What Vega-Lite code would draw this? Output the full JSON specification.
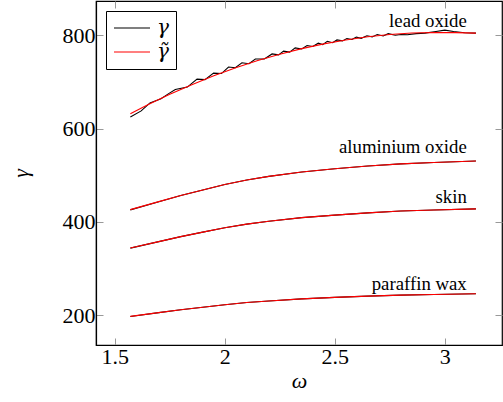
{
  "$schema": "https://vega.github.io/schema/vega-lite/v6.json",
  "width": 406,
  "height": 344,
  "autosize": {"type": "none"},
  "padding": {"left": 96, "top": 1, "right": 1, "bottom": 57},
  "config": {
    "view": {"stroke": "black", "strokeWidth": 1.2},
    "font": "'Liberation Serif', 'DejaVu Serif', serif",
    "axis": {
      "labelFont": "'Liberation Serif', 'DejaVu Serif', serif", "labelFontSize": 22, "labelColor": "black",
      "titleFont": "'Liberation Serif', 'DejaVu Serif', serif", "titleFontSize": 22, "titleFontStyle": "italic",
      "titleFontWeight": "normal", "titleColor": "black",
      "grid": false, "tickColor": "#999999", "tickSize": -7, "tickWidth": 1,
      "domainColor": "black", "domainWidth": 1.2
    }
  },
  "datasets": {
    "lines": [
      {"w": 1.5708, "v": 625, "mat": "lead", "kind": "γ"},
      {"w": 1.62, "v": 638, "mat": "lead", "kind": "γ"},
      {"w": 1.66, "v": 655, "mat": "lead", "kind": "γ"},
      {"w": 1.71, "v": 664, "mat": "lead", "kind": "γ"},
      {"w": 1.745, "v": 675, "mat": "lead", "kind": "γ"},
      {"w": 1.775, "v": 684, "mat": "lead", "kind": "γ"},
      {"w": 1.83, "v": 689, "mat": "lead", "kind": "γ"},
      {"w": 1.85, "v": 697, "mat": "lead", "kind": "γ"},
      {"w": 1.874, "v": 706, "mat": "lead", "kind": "γ"},
      {"w": 1.91, "v": 705, "mat": "lead", "kind": "γ"},
      {"w": 1.949, "v": 719, "mat": "lead", "kind": "γ"},
      {"w": 1.985, "v": 718, "mat": "lead", "kind": "γ"},
      {"w": 2.017, "v": 732, "mat": "lead", "kind": "γ"},
      {"w": 2.048, "v": 730.5, "mat": "lead", "kind": "γ"},
      {"w": 2.078, "v": 741, "mat": "lead", "kind": "γ"},
      {"w": 2.11, "v": 739, "mat": "lead", "kind": "γ"},
      {"w": 2.139, "v": 749, "mat": "lead", "kind": "γ"},
      {"w": 2.18, "v": 749, "mat": "lead", "kind": "γ"},
      {"w": 2.215, "v": 760, "mat": "lead", "kind": "γ"},
      {"w": 2.245, "v": 758, "mat": "lead", "kind": "γ"},
      {"w": 2.267, "v": 766, "mat": "lead", "kind": "γ"},
      {"w": 2.295, "v": 764, "mat": "lead", "kind": "γ"},
      {"w": 2.32, "v": 773, "mat": "lead", "kind": "γ"},
      {"w": 2.35, "v": 770.5, "mat": "lead", "kind": "γ"},
      {"w": 2.374, "v": 778, "mat": "lead", "kind": "γ"},
      {"w": 2.4, "v": 776, "mat": "lead", "kind": "γ"},
      {"w": 2.425, "v": 783, "mat": "lead", "kind": "γ"},
      {"w": 2.445, "v": 780, "mat": "lead", "kind": "γ"},
      {"w": 2.466, "v": 787, "mat": "lead", "kind": "γ"},
      {"w": 2.49, "v": 784, "mat": "lead", "kind": "γ"},
      {"w": 2.51, "v": 790, "mat": "lead", "kind": "γ"},
      {"w": 2.535, "v": 788, "mat": "lead", "kind": "γ"},
      {"w": 2.555, "v": 793, "mat": "lead", "kind": "γ"},
      {"w": 2.578, "v": 791, "mat": "lead", "kind": "γ"},
      {"w": 2.598, "v": 796, "mat": "lead", "kind": "γ"},
      {"w": 2.62, "v": 793.5, "mat": "lead", "kind": "γ"},
      {"w": 2.646, "v": 799, "mat": "lead", "kind": "γ"},
      {"w": 2.67, "v": 796.5, "mat": "lead", "kind": "γ"},
      {"w": 2.693, "v": 801.5, "mat": "lead", "kind": "γ"},
      {"w": 2.72, "v": 798.5, "mat": "lead", "kind": "γ"},
      {"w": 2.743, "v": 803.5, "mat": "lead", "kind": "γ"},
      {"w": 2.775, "v": 800, "mat": "lead", "kind": "γ"},
      {"w": 2.8, "v": 801.5, "mat": "lead", "kind": "γ"},
      {"w": 2.83, "v": 801, "mat": "lead", "kind": "γ"},
      {"w": 2.87, "v": 803.5, "mat": "lead", "kind": "γ"},
      {"w": 2.91, "v": 804.5, "mat": "lead", "kind": "γ"},
      {"w": 2.96, "v": 808, "mat": "lead", "kind": "γ"},
      {"w": 3.0, "v": 811, "mat": "lead", "kind": "γ"},
      {"w": 3.04, "v": 808, "mat": "lead", "kind": "γ"},
      {"w": 3.09, "v": 805.5, "mat": "lead", "kind": "γ"},
      {"w": 3.1416, "v": 804.5, "mat": "lead", "kind": "γ"},

      {"w": 1.5708, "v": 632, "mat": "lead", "kind": "γ̃"},
      {"w": 1.65, "v": 651, "mat": "lead", "kind": "γ̃"},
      {"w": 1.75, "v": 673.5, "mat": "lead", "kind": "γ̃"},
      {"w": 1.85, "v": 694.2, "mat": "lead", "kind": "γ̃"},
      {"w": 1.95, "v": 713.2, "mat": "lead", "kind": "γ̃"},
      {"w": 2.05, "v": 730.4, "mat": "lead", "kind": "γ̃"},
      {"w": 2.15, "v": 745.8, "mat": "lead", "kind": "γ̃"},
      {"w": 2.25, "v": 759.5, "mat": "lead", "kind": "γ̃"},
      {"w": 2.35, "v": 771.4, "mat": "lead", "kind": "γ̃"},
      {"w": 2.45, "v": 781.6, "mat": "lead", "kind": "γ̃"},
      {"w": 2.55, "v": 790, "mat": "lead", "kind": "γ̃"},
      {"w": 2.65, "v": 796.7, "mat": "lead", "kind": "γ̃"},
      {"w": 2.75, "v": 801.5, "mat": "lead", "kind": "γ̃"},
      {"w": 2.85, "v": 804.7, "mat": "lead", "kind": "γ̃"},
      {"w": 2.95, "v": 806, "mat": "lead", "kind": "γ̃"},
      {"w": 3.05, "v": 805.7, "mat": "lead", "kind": "γ̃"},
      {"w": 3.1416, "v": 804.5, "mat": "lead", "kind": "γ̃"},

      {"w": 1.5708, "v": 426, "mat": "al", "kind": "γ"},
      {"w": 1.7, "v": 443.4, "mat": "al", "kind": "γ"},
      {"w": 1.8, "v": 456.8, "mat": "al", "kind": "γ"},
      {"w": 1.9, "v": 468.7, "mat": "al", "kind": "γ"},
      {"w": 2.0, "v": 480.2, "mat": "al", "kind": "γ"},
      {"w": 2.1, "v": 490.0, "mat": "al", "kind": "γ"},
      {"w": 2.2, "v": 497.7, "mat": "al", "kind": "γ"},
      {"w": 2.35, "v": 507.1, "mat": "al", "kind": "γ"},
      {"w": 2.5, "v": 513.9, "mat": "al", "kind": "γ"},
      {"w": 2.65, "v": 519.9, "mat": "al", "kind": "γ"},
      {"w": 2.8, "v": 524.6, "mat": "al", "kind": "γ"},
      {"w": 2.95, "v": 527.6, "mat": "al", "kind": "γ"},
      {"w": 3.1416, "v": 530.6, "mat": "al", "kind": "γ"},
      {"w": 1.5708, "v": 426.5, "mat": "al", "kind": "γ̃"},
      {"w": 1.7, "v": 443.6, "mat": "al", "kind": "γ̃"},
      {"w": 1.8, "v": 456.8, "mat": "al", "kind": "γ̃"},
      {"w": 1.9, "v": 468.7, "mat": "al", "kind": "γ̃"},
      {"w": 2.0, "v": 480.2, "mat": "al", "kind": "γ̃"},
      {"w": 2.1, "v": 490.0, "mat": "al", "kind": "γ̃"},
      {"w": 2.2, "v": 497.7, "mat": "al", "kind": "γ̃"},
      {"w": 2.35, "v": 507.1, "mat": "al", "kind": "γ̃"},
      {"w": 2.5, "v": 513.9, "mat": "al", "kind": "γ̃"},
      {"w": 2.65, "v": 519.9, "mat": "al", "kind": "γ̃"},
      {"w": 2.8, "v": 524.6, "mat": "al", "kind": "γ̃"},
      {"w": 2.95, "v": 527.6, "mat": "al", "kind": "γ̃"},
      {"w": 3.1416, "v": 530.6, "mat": "al", "kind": "γ̃"},

      {"w": 1.5708, "v": 344.0, "mat": "skin", "kind": "γ"},
      {"w": 1.7, "v": 358.0, "mat": "skin", "kind": "γ"},
      {"w": 1.8, "v": 368.6, "mat": "skin", "kind": "γ"},
      {"w": 1.9, "v": 378.3, "mat": "skin", "kind": "γ"},
      {"w": 2.0, "v": 387.6, "mat": "skin", "kind": "γ"},
      {"w": 2.1, "v": 395.5, "mat": "skin", "kind": "γ"},
      {"w": 2.2, "v": 401.7, "mat": "skin", "kind": "γ"},
      {"w": 2.35, "v": 409.3, "mat": "skin", "kind": "γ"},
      {"w": 2.5, "v": 414.8, "mat": "skin", "kind": "γ"},
      {"w": 2.65, "v": 419.6, "mat": "skin", "kind": "γ"},
      {"w": 2.8, "v": 423.4, "mat": "skin", "kind": "γ"},
      {"w": 2.95, "v": 425.8, "mat": "skin", "kind": "γ"},
      {"w": 3.1416, "v": 428.2, "mat": "skin", "kind": "γ"},
      {"w": 1.5708, "v": 344.2, "mat": "skin", "kind": "γ̃"},
      {"w": 1.7, "v": 358.0, "mat": "skin", "kind": "γ̃"},
      {"w": 1.8, "v": 368.6, "mat": "skin", "kind": "γ̃"},
      {"w": 1.9, "v": 378.3, "mat": "skin", "kind": "γ̃"},
      {"w": 2.0, "v": 387.6, "mat": "skin", "kind": "γ̃"},
      {"w": 2.1, "v": 395.5, "mat": "skin", "kind": "γ̃"},
      {"w": 2.2, "v": 401.7, "mat": "skin", "kind": "γ̃"},
      {"w": 2.35, "v": 409.3, "mat": "skin", "kind": "γ̃"},
      {"w": 2.5, "v": 414.8, "mat": "skin", "kind": "γ̃"},
      {"w": 2.65, "v": 419.6, "mat": "skin", "kind": "γ̃"},
      {"w": 2.8, "v": 423.4, "mat": "skin", "kind": "γ̃"},
      {"w": 2.95, "v": 425.8, "mat": "skin", "kind": "γ̃"},
      {"w": 3.1416, "v": 428.2, "mat": "skin", "kind": "γ̃"},

      {"w": 1.5708, "v": 197.7, "mat": "wax", "kind": "γ"},
      {"w": 1.7, "v": 205.8, "mat": "wax", "kind": "γ"},
      {"w": 1.8, "v": 212.0, "mat": "wax", "kind": "γ"},
      {"w": 1.9, "v": 217.5, "mat": "wax", "kind": "γ"},
      {"w": 2.0, "v": 222.8, "mat": "wax", "kind": "γ"},
      {"w": 2.1, "v": 227.4, "mat": "wax", "kind": "γ"},
      {"w": 2.2, "v": 230.9, "mat": "wax", "kind": "γ"},
      {"w": 2.35, "v": 235.3, "mat": "wax", "kind": "γ"},
      {"w": 2.5, "v": 238.5, "mat": "wax", "kind": "γ"},
      {"w": 2.65, "v": 241.2, "mat": "wax", "kind": "γ"},
      {"w": 2.8, "v": 243.4, "mat": "wax", "kind": "γ"},
      {"w": 2.95, "v": 244.8, "mat": "wax", "kind": "γ"},
      {"w": 3.1416, "v": 246.2, "mat": "wax", "kind": "γ"},
      {"w": 1.5708, "v": 197.9, "mat": "wax", "kind": "γ̃"},
      {"w": 1.7, "v": 205.8, "mat": "wax", "kind": "γ̃"},
      {"w": 1.8, "v": 212.0, "mat": "wax", "kind": "γ̃"},
      {"w": 1.9, "v": 217.5, "mat": "wax", "kind": "γ̃"},
      {"w": 2.0, "v": 222.8, "mat": "wax", "kind": "γ̃"},
      {"w": 2.1, "v": 227.4, "mat": "wax", "kind": "γ̃"},
      {"w": 2.2, "v": 230.9, "mat": "wax", "kind": "γ̃"},
      {"w": 2.35, "v": 235.3, "mat": "wax", "kind": "γ̃"},
      {"w": 2.5, "v": 238.5, "mat": "wax", "kind": "γ̃"},
      {"w": 2.65, "v": 241.2, "mat": "wax", "kind": "γ̃"},
      {"w": 2.8, "v": 243.4, "mat": "wax", "kind": "γ̃"},
      {"w": 2.95, "v": 244.8, "mat": "wax", "kind": "γ̃"},
      {"w": 3.1416, "v": 246.2, "mat": "wax", "kind": "γ̃"}
    ],
    "labels": [
      {"w": 3.1, "v": 818.4, "label": "lead oxide"},
      {"w": 3.1, "v": 547.2, "label": "aluminium oxide"},
      {"w": 3.1, "v": 441.3, "label": "skin"},
      {"w": 3.1, "v": 254.2, "label": "paraffin wax"}
    ]
  },
  "layer": [
    {
      "data": {"name": "lines"},
      "transform": [{"filter": "datum.kind === 'γ'"}],
      "mark": {"type": "line", "strokeWidth": 1.1},
      "encoding": {
        "x": {"field": "w", "type": "quantitative",
              "scale": {"domain": [1.4146, 3.2601], "nice": false, "zero": false},
              "axis": {"orient": "bottom", "values": [1.5, 2, 2.5, 3], "format": "~g", "title": "ω", "labelPadding": 8, "titlePadding": 3}},
        "y": {"field": "v", "type": "quantitative",
              "scale": {"domain": [136.5, 873.4], "nice": false, "zero": false},
              "axis": {"orient": "left", "values": [200, 400, 600, 800], "format": "d", "title": "γ", "titleAngle": -90, "labelPadding": 8, "titlePadding": 30}},
        "color": {"field": "kind", "type": "nominal",
                  "scale": {"domain": ["γ", "γ̃"], "range": ["black", "red"]},
                  "legend": {"title": null, "orient": "top-left", "offset": 10, "symbolType": "M-1,0H3", "symbolSize": 324,
                             "symbolStrokeWidth": 1.1, "labelFont": "'DejaVu Serif', serif", "labelFontSize": 20, "labelFontStyle": "italic",
                             "labelColor": "black", "labelOffset": 24, "labelBaseline": "middle", "strokeColor": "black", "fillColor": "white",
                             "padding": 7, "rowPadding": 4}},
        "detail": {"field": "mat"}
      }
    },
    {
      "data": {"name": "lines"},
      "transform": [{"filter": "datum.kind !== 'γ'"}],
      "mark": {"type": "line", "strokeWidth": 1.1},
      "encoding": {
        "x": {"field": "w", "type": "quantitative", "axis": null},
        "y": {"field": "v", "type": "quantitative", "axis": null},
        "color": {"field": "kind", "type": "nominal"},
        "detail": {"field": "mat"}
      }
    },
    {
      "data": {"name": "labels"},
      "mark": {"type": "text", "align": "right", "baseline": "alphabetic", "font": "'Liberation Serif', 'DejaVu Serif', serif", "fontSize": 18.8, "color": "black"},
      "encoding": {
        "x": {"field": "w", "type": "quantitative",
              "axis": {"orient": "top", "values": [1.5, 2, 2.5, 3], "labels": false, "domain": false, "title": null}},
        "y": {"field": "v", "type": "quantitative",
              "axis": {"orient": "right", "values": [200, 400, 600, 800], "labels": false, "domain": false, "title": null}},
        "text": {"field": "label"}
      }
    }
  ],
  "resolve": {"axis": {"x": "independent", "y": "independent"}}
}
